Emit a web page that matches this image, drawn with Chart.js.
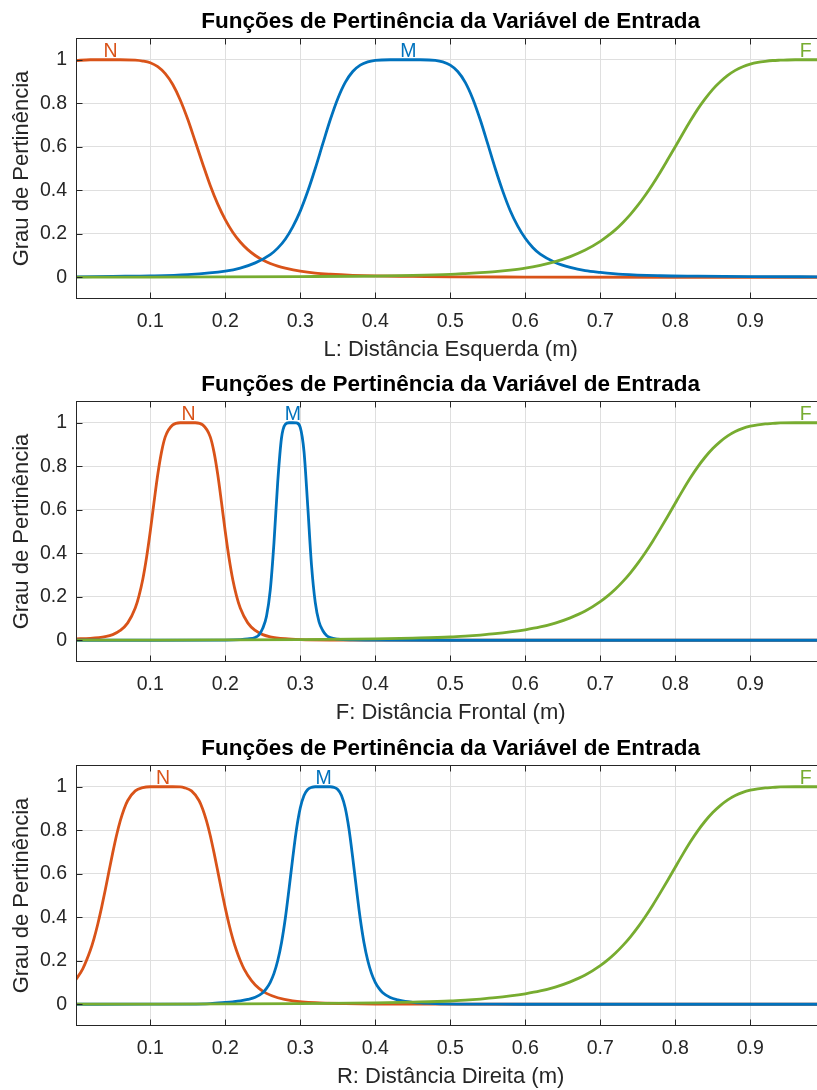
<!DOCTYPE html>
<html>
<head>
<meta charset="utf-8">
<script src="https://cdn.jsdelivr.net/npm/chart.js@4.4.1/dist/chart.umd.min.js"></script>
<style>
html,body{margin:0;padding:0;width:817px;height:1090px;overflow:hidden;background:#fff;}
.wrap{position:absolute;left:0;width:830px;height:363px;}
canvas{display:block;}
</style>
</head>
<body>
<div class="wrap" style="top:0px"><canvas id="c1" width="830" height="363"></canvas></div>
<div class="wrap" style="top:363px"><canvas id="c2" width="830" height="363"></canvas></div>
<div class="wrap" style="top:727px"><canvas id="c3" width="830" height="363"></canvas></div>
<script>
// ---------- texts ----------
const titleText = 'Funções de Pertinência da Variável de Entrada';
const yAxisLabel = 'Grau de Pertinência';
const xAxisLabels = ['L: Distância Esquerda (m)', 'F: Distância Frontal (m)', 'R: Distância Direita (m)'];
const setNames = ['N', 'M', 'F'];
const xTicks = [0.1, 0.2, 0.3, 0.4, 0.5, 0.6, 0.7, 0.8, 0.9];
const yTicks = [0, 0.2, 0.4, 0.6, 0.8, 1];

// ---------- plot 1 : L (left distance) ----------
const nL_x = [0, 0.02, 0.04, 0.06, 0.08, 0.09, 0.1, 0.11, 0.12, 0.13, 0.14, 0.15, 0.16, 0.17, 0.18, 0.19, 0.2, 0.21, 0.22, 0.23, 0.24, 0.25, 0.26, 0.27, 0.28, 0.3, 0.32, 0.34, 0.37, 0.4, 0.45, 0.5, 0.6, 0.8, 1.0];
const nL_y = [0.996, 1, 1, 1, 0.998, 0.994, 0.986, 0.968, 0.936, 0.886, 0.815, 0.726, 0.624, 0.521, 0.422, 0.336, 0.265, 0.207, 0.162, 0.127, 0.1, 0.079, 0.063, 0.051, 0.042, 0.028, 0.019, 0.014, 0.009, 0.006, 0.004, 0.002, 0.001, 0, 0];
const mL_x = [0, 0.05, 0.1, 0.15, 0.2, 0.22, 0.24, 0.26, 0.27, 0.28, 0.29, 0.3, 0.31, 0.32, 0.33, 0.34, 0.35, 0.36, 0.37, 0.38, 0.39, 0.4, 0.42, 0.44, 0.46, 0.48, 0.49, 0.5, 0.51, 0.52, 0.53, 0.54, 0.55, 0.56, 0.57, 0.58, 0.59, 0.6, 0.61, 0.62, 0.64, 0.66, 0.68, 0.7, 0.73, 0.78, 0.83, 0.9, 1.0];
const mL_y = [0.002, 0.004, 0.006, 0.012, 0.028, 0.042, 0.066, 0.104, 0.134, 0.175, 0.232, 0.304, 0.395, 0.5, 0.613, 0.724, 0.821, 0.896, 0.946, 0.975, 0.99, 0.997, 1, 1, 1, 0.997, 0.99, 0.975, 0.946, 0.896, 0.821, 0.724, 0.613, 0.5, 0.396, 0.306, 0.235, 0.179, 0.137, 0.106, 0.068, 0.045, 0.03, 0.022, 0.013, 0.007, 0.005, 0.003, 0.002];
const fL_x = [0, 0.1, 0.2, 0.3, 0.4, 0.45, 0.5, 0.52, 0.54, 0.56, 0.58, 0.6, 0.62, 0.64, 0.66, 0.68, 0.7, 0.71, 0.72, 0.73, 0.74, 0.75, 0.76, 0.77, 0.78, 0.79, 0.8, 0.81, 0.82, 0.83, 0.84, 0.85, 0.86, 0.87, 0.88, 0.89, 0.9, 0.91, 0.92, 0.93, 0.94, 0.96, 1.0];
const fL_y = [0.0005, 0.0008, 0.0015, 0.003, 0.0055, 0.0085, 0.0135, 0.017, 0.021, 0.026, 0.033, 0.042, 0.055, 0.072, 0.095, 0.125, 0.165, 0.19, 0.218, 0.251, 0.288, 0.33, 0.377, 0.428, 0.483, 0.541, 0.6, 0.66, 0.718, 0.773, 0.821, 0.864, 0.899, 0.928, 0.951, 0.968, 0.98, 0.988, 0.993, 0.9965, 0.998, 1, 1];
const labelL_x = [0.047, 0.444, 0.974];

// ---------- plot 2 : F (frontal distance) ----------
const nF_x = [0, 0.02, 0.04, 0.05, 0.06, 0.07, 0.08, 0.085, 0.09, 0.095, 0.1, 0.105, 0.11, 0.115, 0.12, 0.13, 0.14, 0.15, 0.16, 0.17, 0.18, 0.185, 0.19, 0.195, 0.2, 0.205, 0.21, 0.215, 0.22, 0.23, 0.24, 0.25, 0.26, 0.28, 0.3, 0.35, 0.4, 0.5, 1.0];
const nF_y = [0.006, 0.009, 0.017, 0.026, 0.045, 0.08, 0.148, 0.204, 0.279, 0.379, 0.5, 0.634, 0.762, 0.865, 0.935, 0.99, 1, 1, 1, 0.99, 0.935, 0.865, 0.762, 0.634, 0.5, 0.379, 0.279, 0.204, 0.148, 0.08, 0.045, 0.026, 0.016, 0.007, 0.0033, 0.001, 0.0005, 0, 0];
const mF_x = [0, 0.1, 0.2, 0.22, 0.23, 0.24, 0.245, 0.25, 0.255, 0.26, 0.265, 0.27, 0.275, 0.28, 0.285, 0.29, 0.295, 0.3, 0.305, 0.31, 0.315, 0.32, 0.325, 0.33, 0.335, 0.34, 0.35, 0.37, 0.4, 0.5, 1.0];
const mF_y = [0, 0, 0.001, 0.003, 0.006, 0.013, 0.025, 0.055, 0.11, 0.23, 0.45, 0.73, 0.93, 0.993, 1, 1, 0.999, 0.979, 0.868, 0.616, 0.346, 0.174, 0.085, 0.045, 0.022, 0.012, 0.005, 0.0014, 0.0005, 0, 0];
const fF_x = [0, 0.1, 0.2, 0.3, 0.4, 0.45, 0.5, 0.52, 0.54, 0.56, 0.58, 0.6, 0.62, 0.64, 0.66, 0.68, 0.7, 0.71, 0.72, 0.73, 0.74, 0.75, 0.76, 0.77, 0.78, 0.79, 0.8, 0.81, 0.82, 0.83, 0.84, 0.85, 0.86, 0.87, 0.88, 0.89, 0.9, 0.91, 0.92, 0.93, 0.94, 0.96, 1.0];
const fF_y = [0.0005, 0.0009, 0.0016, 0.0031, 0.0066, 0.01, 0.015, 0.019, 0.024, 0.03, 0.038, 0.048, 0.061, 0.079, 0.103, 0.134, 0.1775, 0.204, 0.2345, 0.2695, 0.309, 0.3535, 0.4025, 0.4555, 0.512, 0.5705, 0.63, 0.689, 0.7455, 0.797, 0.8425, 0.8815, 0.9135, 0.9395, 0.9595, 0.974, 0.984, 0.9905, 0.995, 0.997, 0.999, 1, 1];
const labelF_x = [0.151, 0.29, 0.974];

// ---------- plot 3 : R (right distance) ----------
const nR_x = [0, 0.01, 0.02, 0.025, 0.03, 0.035, 0.04, 0.045, 0.05, 0.055, 0.06, 0.065, 0.07, 0.08, 0.09, 0.1, 0.11, 0.12, 0.13, 0.14, 0.145, 0.155, 0.165, 0.17, 0.175, 0.18, 0.185, 0.19, 0.195, 0.2, 0.205, 0.21, 0.215, 0.22, 0.225, 0.235, 0.245, 0.255, 0.27, 0.29, 0.32, 0.36, 0.4, 0.5, 0.6, 1.0];
const nR_y = [0.109, 0.163, 0.247, 0.302, 0.368, 0.443, 0.525, 0.612, 0.697, 0.776, 0.843, 0.897, 0.937, 0.981, 0.996, 1, 1, 1, 1, 0.999, 0.996, 0.981, 0.937, 0.897, 0.843, 0.776, 0.697, 0.612, 0.525, 0.443, 0.368, 0.302, 0.247, 0.201, 0.163, 0.109, 0.073, 0.05, 0.03, 0.016, 0.007, 0.003, 0.0012, 0.0003, 0.0001, 0];
const mR_x = [0, 0.1, 0.15, 0.18, 0.2, 0.21, 0.22, 0.23, 0.24, 0.25, 0.255, 0.26, 0.265, 0.27, 0.275, 0.28, 0.285, 0.29, 0.295, 0.3, 0.305, 0.31, 0.315, 0.32, 0.33, 0.34, 0.345, 0.35, 0.355, 0.36, 0.365, 0.37, 0.375, 0.38, 0.385, 0.39, 0.395, 0.4, 0.405, 0.41, 0.42, 0.43, 0.44, 0.45, 0.46, 0.48, 0.51, 0.56, 0.6, 1.0];
const mR_y = [0, 0.0002, 0.0008, 0.003, 0.008, 0.011, 0.015, 0.022, 0.032, 0.053, 0.073, 0.101, 0.142, 0.201, 0.283, 0.393, 0.529, 0.673, 0.805, 0.902, 0.96, 0.987, 0.997, 1, 1, 1, 0.997, 0.987, 0.96, 0.902, 0.805, 0.673, 0.529, 0.393, 0.283, 0.201, 0.142, 0.101, 0.073, 0.053, 0.031, 0.02, 0.013, 0.009, 0.006, 0.003, 0.001, 0.0002, 0.0001, 0];
const fR_x = [0, 0.1, 0.2, 0.3, 0.4, 0.45, 0.5, 0.52, 0.54, 0.56, 0.58, 0.6, 0.62, 0.64, 0.66, 0.68, 0.7, 0.71, 0.72, 0.73, 0.74, 0.75, 0.76, 0.77, 0.78, 0.79, 0.8, 0.81, 0.82, 0.83, 0.84, 0.85, 0.86, 0.87, 0.88, 0.89, 0.9, 0.91, 0.92, 0.93, 0.94, 0.96, 1.0];
const fR_y = [0.0005, 0.0009, 0.0016, 0.0031, 0.0066, 0.01, 0.015, 0.019, 0.024, 0.03, 0.038, 0.048, 0.061, 0.079, 0.103, 0.134, 0.1775, 0.204, 0.2345, 0.2695, 0.309, 0.3535, 0.4025, 0.4555, 0.512, 0.5705, 0.63, 0.689, 0.7455, 0.797, 0.8425, 0.8815, 0.9135, 0.9395, 0.9595, 0.974, 0.984, 0.9905, 0.995, 0.997, 0.999, 1, 1];
const labelR_x = [0.117, 0.331, 0.974];

// ---------- style ----------
const COLORS = ['#D95319', '#0072BD', '#77AC30'];
const FONT = '"Liberation Sans", Arial, Helvetica, sans-serif';
const AXIS_COLOR = '#262626';
const GRID_COLOR = '#dfdfdf';

function pts(xs, ys) { return xs.map((x, i) => ({ x: x, y: ys[i] })); }

const boxPlugin = {
  id: 'box',
  afterDatasetsDraw(chart, args, opts) {
    const { ctx, chartArea: a, scales } = chart;
    const xs = scales.x, ys = scales.y;
    ctx.save();
    // set labels (N, M, F)
    ctx.font = '19.5px ' + FONT;
    ctx.textAlign = 'center';
    ctx.textBaseline = 'alphabetic';
    const yTop = ys.getPixelForValue(1);
    opts.labels.forEach((t, i) => {
      ctx.fillStyle = COLORS[i];
      ctx.fillText(t, xs.getPixelForValue(opts.pos[i]), yTop - 2.5);
    });
    // axes box
    ctx.strokeStyle = AXIS_COLOR;
    ctx.lineWidth = 1;
    const L = Math.round(a.left) + 0.5, R = Math.round(a.right) - 0.5;
    const T = Math.round(a.top) + 0.5, B = Math.round(a.bottom) - 0.5;
    ctx.strokeRect(L, T, R - L, B - T);
    // inward tick marks
    const tl = 6;
    ctx.beginPath();
    xs.ticks.forEach(t => {
      const px = Math.round(xs.getPixelForValue(t.value)) + 0.5;
      ctx.moveTo(px, B); ctx.lineTo(px, B - tl);
      ctx.moveTo(px, T); ctx.lineTo(px, T + tl);
    });
    ys.ticks.forEach(t => {
      const py = Math.round(ys.getPixelForValue(t.value)) + 0.5;
      ctx.moveTo(L, py); ctx.lineTo(L + tl, py);
      ctx.moveTo(R, py); ctx.lineTo(R - tl, py);
    });
    ctx.stroke();
    ctx.restore();
  }
};

function makeChart(id, series, xLabel, labelPos) {
  const datasets = series.map((s, i) => ({
    label: setNames[i],
    data: pts(s[0], s[1]),
    borderColor: COLORS[i],
    backgroundColor: COLORS[i],
    borderWidth: 2.8,
    pointRadius: 0,
    fill: false,
    cubicInterpolationMode: 'monotone',
    order: 3 - i,
    clip: { left: 0, right: 0, top: 5, bottom: 5 }
  }));
  return new Chart(document.getElementById(id), {
    type: 'line',
    data: { datasets: datasets },
    plugins: [boxPlugin],
    options: {
      responsive: false,
      animation: false,
      devicePixelRatio: 1,
      events: [],
      layout: { padding: { left: 0, right: 4.75, top: 0, bottom: 0 } },
      plugins: {
        legend: { display: false },
        tooltip: { enabled: false },
        title: {
          display: true,
          text: titleText,
          fullSize: false,
          color: '#000',
          font: { family: FONT, size: 22.5, weight: 'bold' },
          padding: { top: 8.3, bottom: 2.7 }
        },
        box: { labels: setNames, pos: labelPos }
      },
      scales: {
        x: {
          type: 'linear',
          min: 0.001,
          max: 1,
          afterBuildTicks: s => { s.ticks = xTicks.map(v => ({ value: v })); },
          afterFit: s => { s.height = 64; },
          grid: { color: GRID_COLOR, lineWidth: 1, drawTicks: false },
          border: { display: false },
          ticks: {
            padding: 11.3, color: AXIS_COLOR, autoSkip: false, maxRotation: 0,
            font: { family: FONT, size: 19.5 },
            callback: v => String(v)
          },
          title: {
            display: true, text: xLabel, color: AXIS_COLOR,
            font: { family: FONT, size: 22 },
            padding: { top: 0, bottom: 0 }
          }
        },
        y: {
          type: 'linear',
          min: -0.1,
          max: 1.1,
          afterBuildTicks: s => { s.ticks = yTicks.map(v => ({ value: v })); },
          afterFit: s => { s.width = 76; },
          grid: { color: GRID_COLOR, lineWidth: 1, drawTicks: false },
          border: { display: false },
          ticks: {
            padding: 9, color: AXIS_COLOR,
            font: { family: FONT, size: 19.5 },
            callback: v => String(v)
          },
          title: {
            display: true, text: yAxisLabel, color: AXIS_COLOR,
            font: { family: FONT, size: 22 },
            padding: { top: 8.6, bottom: 0 }
          }
        }
      }
    }
  });
}

makeChart('c1', [[nL_x, nL_y], [mL_x, mL_y], [fL_x, fL_y]], xAxisLabels[0], labelL_x);
makeChart('c2', [[nF_x, nF_y], [mF_x, mF_y], [fF_x, fF_y]], xAxisLabels[1], labelF_x);
makeChart('c3', [[nR_x, nR_y], [mR_x, mR_y], [fR_x, fR_y]], xAxisLabels[2], labelR_x);
</script>
</body>
</html>
